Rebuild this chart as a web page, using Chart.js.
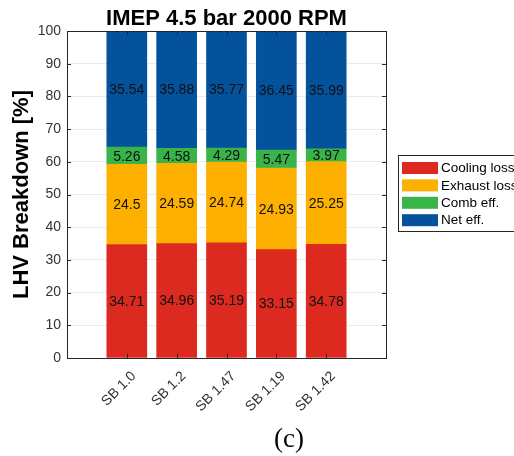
<!DOCTYPE html>
<html>
<head>
<meta charset="utf-8">
<script src="https://cdn.jsdelivr.net/npm/chart.js@4/dist/chart.umd.min.js"></script>
<style>
  html, body { margin: 0; padding: 0; background: #fff; }
  canvas { display: block; }
</style>
</head>
<body>
<canvas id="lhv_chart" width="514" height="456"></canvas>
<script>
// LHV breakdown per spark-timing case, IMEP 4.5 bar / 2000 RPM
const categories  = ["SB 1.0", "SB 1.2", "SB 1.47", "SB 1.19", "SB 1.42"];
const coolingLoss = [34.71, 34.96, 35.19, 33.15, 34.78];
const exhaustLoss = [24.5, 24.59, 24.74, 24.93, 25.25];
const combEff     = [5.26, 4.58, 4.29, 5.47, 3.97];
const netEff      = [35.54, 35.88, 35.77, 36.45, 35.99];

const FONT = "'Liberation Sans', Arial, sans-serif";
const AXIS_GRAY = "#262626";

Chart.defaults.font.family = FONT;

// bars sit at x = 1..5 on a linear axis
function toPoints(values) {
  return values.map((v, i) => ({ x: i + 1, y: v }));
}

function series(label, values, color) {
  return {
    label: label,
    data: toPoints(values),
    backgroundColor: color,
    borderWidth: 0,
    barThickness: 40
  };
}

// box around the axes, inward ticks on all four sides
const framePlugin = {
  id: "frame",
  afterDatasetsDraw(chart) {
    const { ctx, chartArea: a, scales: { x, y } } = chart;
    const tl = 4;
    ctx.save();
    ctx.strokeStyle = AXIS_GRAY;
    ctx.lineWidth = 1;
    ctx.beginPath();
    y.ticks.forEach(t => {
      const py = Math.round(y.getPixelForValue(t.value)) + 0.5;
      ctx.moveTo(a.left, py);  ctx.lineTo(a.left + tl, py);
      ctx.moveTo(a.right, py); ctx.lineTo(a.right - tl, py);
    });
    x.ticks.forEach(t => {
      const px = Math.round(x.getPixelForValue(t.value)) + 0.5;
      ctx.moveTo(px, a.bottom); ctx.lineTo(px, a.bottom - tl);
      ctx.moveTo(px, a.top);    ctx.lineTo(px, a.top + tl);
    });
    ctx.stroke();
    ctx.strokeRect(Math.round(a.left) + 0.5, Math.round(a.top) + 0.5,
                   Math.round(a.right - a.left), Math.round(a.bottom - a.top));
    ctx.restore();
  }
};

// segment values printed in the middle of each stacked piece
const valueLabels = {
  id: "valueLabels",
  afterDatasetsDraw(chart) {
    const ctx = chart.ctx;
    ctx.save();
    ctx.font = "14px " + FONT;
    ctx.fillStyle = "#111";
    ctx.textAlign = "center";
    ctx.textBaseline = "middle";
    chart.data.datasets.forEach((ds, di) => {
      chart.getDatasetMeta(di).data.forEach((el, i) => {
        ctx.fillText(String(ds.data[i].y), el.x, (el.y + el.base) / 2 + 1);
      });
    });
    ctx.restore();
  }
};

// title, legend box and panel caption
const decorations = {
  id: "decorations",
  afterDraw(chart) {
    const { ctx, chartArea: a } = chart;
    ctx.save();

    ctx.fillStyle = "#000";
    ctx.font = "bold 22px " + FONT;
    ctx.textAlign = "center";
    ctx.textBaseline = "alphabetic";
    ctx.fillText("IMEP 4.5 bar 2000 RPM", (a.left + a.right) / 2, 25);

    // legend
    const lx = 398.5, ly = 155.5;
    ctx.fillStyle = "#fff";
    ctx.fillRect(lx, ly, 140, 76);
    ctx.strokeStyle = AXIS_GRAY;
    ctx.lineWidth = 1;
    ctx.strokeRect(lx, ly, 140, 76);
    ctx.font = "13.5px " + FONT;
    ctx.textAlign = "left";
    ctx.textBaseline = "middle";
    chart.data.datasets.forEach((ds, i) => {
      const cy = 168 + i * 17.4;
      ctx.fillStyle = ds.backgroundColor;
      ctx.fillRect(402, cy - 6, 36, 12);
      ctx.fillStyle = "#000";
      ctx.fillText(ds.label, 441, cy + 0.5);
    });

    ctx.font = "27px 'Liberation Serif', 'Times New Roman', serif";
    ctx.textAlign = "center";
    ctx.textBaseline = "alphabetic";
    ctx.fillText("(c)", 289, 447);
    ctx.restore();
  }
};

const chart = new Chart(document.getElementById("lhv_chart"), {
  type: "bar",
  data: {
    datasets: [
      series("Cooling loss", coolingLoss, "#dc2a20"),
      series("Exhaust loss", exhaustLoss, "#fdb000"),
      series("Comb eff.", combEff, "#38b449"),
      series("Net eff.", netEff, "#03529b")
    ]
  },
  options: {
    responsive: false,
    animation: false,
    layout: { padding: { top: 31, right: 128, bottom: 0, left: 0 } },
    plugins: {
      legend: { display: false },
      tooltip: { enabled: false }
    },
    scales: {
      x: {
        type: "linear",
        min: -0.2,
        max: 6.2,
        stacked: true,
        offset: false,
        grid: { display: false, offset: false },
        border: { display: false },
        afterBuildTicks: axis => {
          axis.ticks = categories.map((c, i) => ({ value: i + 1 }));
        },
        afterFit: axis => { axis.height = 98; },
        ticks: {
          autoSkip: false,
          minRotation: 45,
          maxRotation: 45,
          padding: 2,
          labelOffset: 7,
          color: "#333",
          font: { size: 14 },
          callback: value => categories[value - 1]
        }
      },
      y: {
        min: 0,
        max: 100,
        stacked: true,
        grid: { color: "#ebebeb", drawTicks: false },
        border: { display: false },
        afterFit: axis => { axis.width = 67; },
        ticks: {
          stepSize: 10,
          padding: 6,
          color: "#333",
          font: { size: 14 }
        },
        title: {
          display: true,
          text: "LHV Breakdown [%]",
          color: "#000",
          font: { size: 22, weight: "bold" },
          padding: { top: 9 }
        }
      }
    }
  },
  plugins: [framePlugin, valueLabels, decorations]
});
</script>
</body>
</html>
